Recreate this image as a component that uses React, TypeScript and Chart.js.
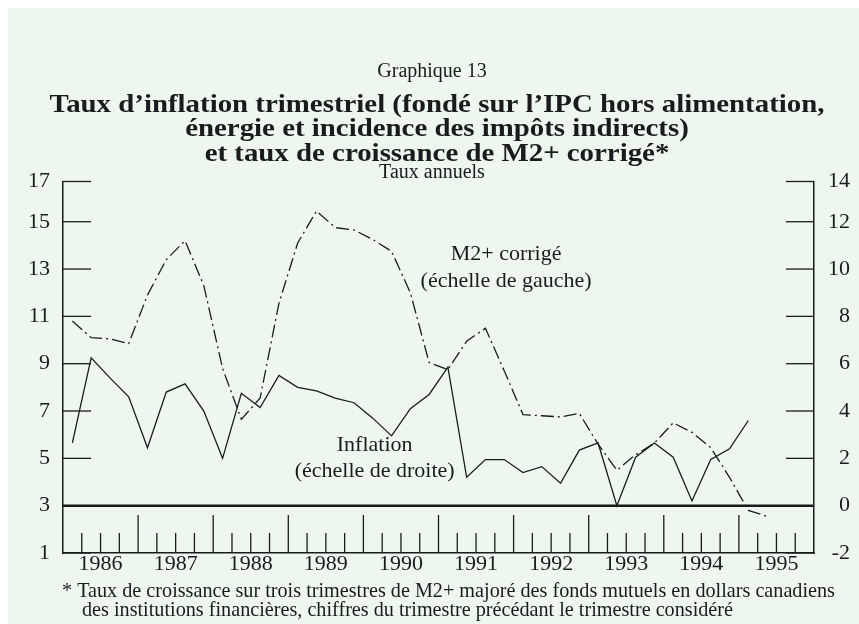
import React, { useEffect, useRef } from 'react';
import { Chart, registerables } from 'chart.js';

Chart.register(...registerables);

const FONT = "'Liberation Serif', 'Times New Roman', serif";
const INK = '#1b1b1b';
const BG = '#edf7f0';

const chartNumber = 'Graphique 13';
const titleLines = [
  'Taux d\u2019inflation trimestriel (fondé sur l\u2019IPC hors alimentation,',
  'énergie et incidence des impôts indirects)',
  'et taux de croissance de M2+ corrigé*',
];
const unitsLabel = 'Taux annuels';
const footnoteLines = [
  '* Taux de croissance sur trois trimestres de M2+ majoré des fonds mutuels en dollars canadiens',
  'des institutions financières, chiffres du trimestre précédant le trimestre considéré',
];
const m2Label = ['M2+ corrigé', '(échelle de gauche)'];
const inflLabel = ['Inflation', '(échelle de droite)'];

const firstYear = 1986;
const years = [1986, 1987, 1988, 1989, 1990, 1991, 1992, 1993, 1994, 1995];

// quarterly values, starting 1986 Q1 (left scale)
const m2Corrige = [
  10.8, 10.1, 10.05, 9.85,
  11.9, 13.4, 14.2, 12.3,
  8.8, 6.65, 7.55, 11.55,
  14.1, 15.45, 14.75, 14.65,
  14.25, 13.75, 12.0, 9.05,
  8.75, 9.95, 10.5, 8.7,
  6.85, 6.8, 6.75, 6.9,
  5.6, 4.5, 5.15, 5.65,
  6.5, 6.1, 5.45, 4.2,
  2.8, 2.55,
];
// quarterly values, starting 1986 Q1 (right scale)
const inflation = [
  2.65, 6.25, 5.4, 4.6,
  2.45, 4.8, 5.15, 4.0,
  2.0, 4.75, 4.15, 5.5,
  5.0, 4.85, 4.55, 4.35,
  3.7, 2.95, 4.1, 4.7,
  5.85, 1.2, 1.95, 1.95,
  1.4, 1.65, 0.95, 2.35,
  2.65, 0.0, 2.05, 2.65,
  2.05, 0.2, 1.95, 2.4,
  3.6,
];

const leftTickValues = [1, 3, 5, 7, 9, 11, 13, 15];
const leftTickLabels = ['1', '3', '5', '7', '9', '11', '13', '15', '17'];
const rightTickValues = [-2, 0, 2, 4, 6, 8, 10, 12];
const rightTickLabels = ['-2', '0', '2', '4', '6', '8', '10', '12', '14'];
const leftTop = 16.7; // top of the drawn axis (labelled 17)
const scaleOffset = 3; // right = left - 3

const qx = (i: number) => firstYear + (i + 0.5) / 4;

const decorPlugin = {
  id: 'decor',
  beforeDatasetsDraw(chart: any) {
    const { ctx, chartArea: a, scales } = chart;
    const xs = scales.x, yl = scales.y, yr = scales.y1;
    ctx.save();
    ctx.strokeStyle = INK;
    ctx.lineWidth = 1.3;
    const line = (x1: number, y1: number, x2: number, y2: number) => {
      ctx.beginPath(); ctx.moveTo(x1, y1); ctx.lineTo(x2, y2); ctx.stroke();
    };
    yl.ticks.forEach((t: any) => { const p = yl.getPixelForValue(t.value); line(a.left, p, a.left + 28, p); });
    yr.ticks.forEach((t: any) => { const p = yr.getPixelForValue(t.value); line(a.right - 28, p, a.right, p); });
    const nQ = years.length * 4;
    for (let q = 1; q < nQ; q++) {
      const px = xs.getPixelForValue(firstYear + q / 4);
      const len = q % 4 === 0 ? 38 : 20;
      line(px, a.bottom, px, a.bottom - len);
    }
    ctx.lineWidth = 2.6;
    const z = yr.getPixelForValue(0);
    line(a.left, z, a.right, z);
    ctx.restore();
  },
};

const textPlugin = {
  id: 'texts',
  afterDraw(chart: any) {
    const { ctx, scales } = chart;
    const xs = scales.x, yl = scales.y, yr = scales.y1;
    ctx.save();
    ctx.fillStyle = INK;
    ctx.textAlign = 'center';
    ctx.textBaseline = 'alphabetic';
    const cx = 427;
    ctx.font = `20px ${FONT}`;
    ctx.fillText(chartNumber, cx - 3, 69);

    // bold title, slightly widened to match the original's wide bold face
    const stretch = 1.11;
    ctx.font = `bold 26px ${FONT}`;
    titleLines.forEach((l, i) => {
      ctx.save();
      ctx.translate(cx + 2, 103.5 + i * 24.5);
      ctx.scale(stretch, 1);
      ctx.fillText(l, 0, 0);
      ctx.restore();
    });

    ctx.font = `20px ${FONT}`;
    ctx.fillText(unitsLabel, cx - 3, 170);

    ctx.font = `22px ${FONT}`;
    ctx.textBaseline = 'middle';
    const mx = xs.getPixelForValue(1991.9);
    ctx.fillText(m2Label[0], mx, yl.getPixelForValue(13.64));
    ctx.fillText(m2Label[1], mx, yl.getPixelForValue(12.5));
    const ix = xs.getPixelForValue(1990.15);
    ctx.fillText(inflLabel[0], ix, yr.getPixelForValue(2.56));
    ctx.fillText(inflLabel[1], ix, yr.getPixelForValue(1.47));

    ctx.textAlign = 'left';
    ctx.textBaseline = 'alphabetic';
    ctx.font = `20.2px ${FONT}`;
    ctx.fillText(footnoteLines[0], 54, 589);
    ctx.fillText(footnoteLines[1], 74, 608);
    ctx.restore();
  },
};

export default function App() {
  const ref = useRef<HTMLCanvasElement>(null);
  useEffect(() => {
    const tickFont = { family: FONT, size: 22, lineHeight: 1 };
    const chart = new Chart(ref.current as HTMLCanvasElement, {
      type: 'line',
      data: {
        datasets: [
          {
            label: 'M2+ corrigé',
            data: m2Corrige.map((v, i) => ({ x: qx(i), y: v })),
            yAxisID: 'y',
            borderColor: INK,
            borderWidth: 1.3,
            borderDash: [13, 4, 2, 4],
            pointRadius: 0,
            tension: 0,
            fill: false,
          },
          {
            label: 'Inflation',
            data: inflation.map((v, i) => ({ x: qx(i), y: v })),
            yAxisID: 'y1',
            borderColor: INK,
            borderWidth: 1.3,
            pointRadius: 0,
            tension: 0,
            fill: false,
          },
        ],
      },
      options: {
        animation: false,
        responsive: false,
        devicePixelRatio: 1,
        layout: { padding: { top: 173.5, right: 9, left: 0, bottom: 0 } },
        plugins: { legend: { display: false }, tooltip: { enabled: false } },
        scales: {
          x: {
            type: 'linear',
            min: firstYear,
            max: firstYear + years.length,
            grid: { display: false, drawTicks: false },
            border: { display: true, color: INK, width: 1.5 },
            afterBuildTicks: (s: any) => { s.ticks = years.map((y) => ({ value: y + 0.5 })); },
            ticks: {
              callback: (v: any) => String(Math.floor(Number(v))),
              font: tickFont,
              color: INK,
              padding: 0,
              maxRotation: 0,
              autoSkip: false,
            },
            afterFit: (s: any) => { s.height = 71; },
          },
          y: {
            type: 'linear',
            position: 'left',
            min: 1,
            max: leftTop,
            grid: { display: false, drawTicks: false },
            border: { display: true, color: INK, width: 1.5 },
            afterBuildTicks: (s: any) => { s.ticks = [...leftTickValues, leftTop].map((v) => ({ value: v })); },
            ticks: {
              callback: (_v: any, i: number) => leftTickLabels[i],
              font: tickFont,
              color: INK,
              padding: 13,
              autoSkip: false,
            },
            afterFit: (s: any) => { s.width = 55; },
          },
          y1: {
            type: 'linear',
            position: 'right',
            min: 1 - scaleOffset,
            max: leftTop - scaleOffset,
            grid: { display: false, drawTicks: false },
            border: { display: true, color: INK, width: 1.5 },
            afterBuildTicks: (s: any) => { s.ticks = [...rightTickValues, leftTop - scaleOffset].map((v) => ({ value: v })); },
            ticks: {
              callback: (_v: any, i: number) => rightTickLabels[i],
              font: tickFont,
              color: INK,
              padding: 0,
              crossAlign: 'far',
              autoSkip: false,
            },
            afterFit: (s: any) => { s.width = 36; },
          },
        },
      },
      plugins: [decorPlugin, textPlugin],
    } as any);
    return () => chart.destroy();
  }, []);
  return (
    <div style={{ position: 'fixed', left: 8, top: 8, width: 851, height: 616, background: BG }}>
      <canvas ref={ref} width={851} height={616} style={{ display: 'block' }} />
    </div>
  );
}
